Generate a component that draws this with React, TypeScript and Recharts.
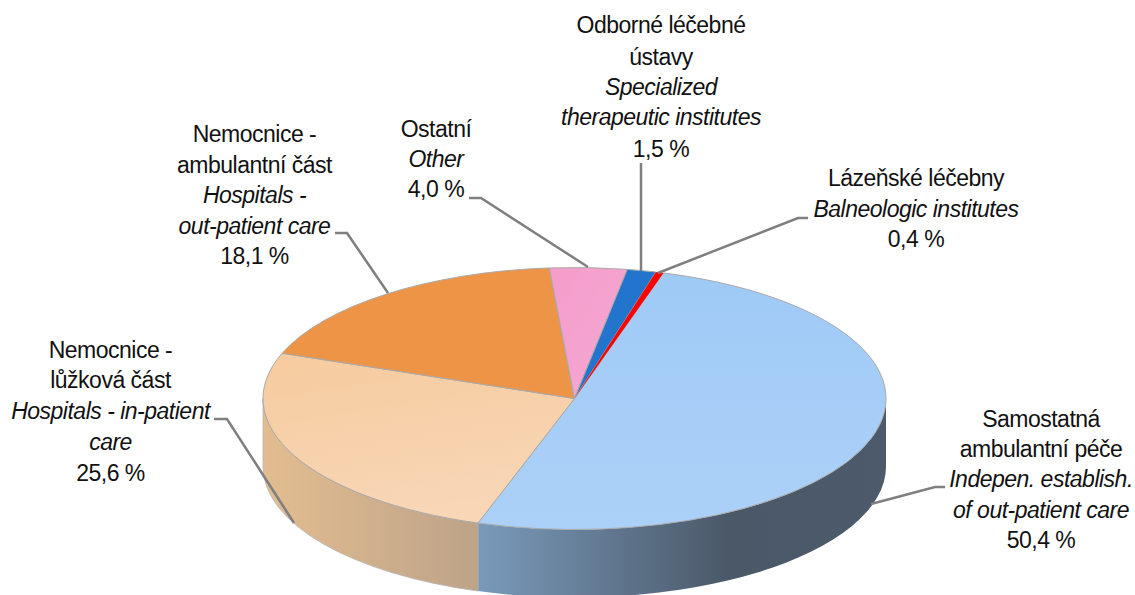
import React from "react";
import { PieChart, Pie } from "recharts";

const categories = ["Samostatná ambulantní péče", "Nemocnice - lůžková část", "Nemocnice - ambulantní část", "Ostatní", "Odborné léčebné ústavy", "Lázeňské léčebny"];
const shares = [50.4, 25.6, 18.1, 4.0, 1.5, 0.4];
const topFills = ["url(#topBlue)", "url(#topTan)", "#EE9446", "url(#topPink)", "#2274CC", "#FF0000"];
const wallFills = ["url(#wallBlue)", "url(#wallTan)", "#EE9446", "#F5A0CE", "#2274CC", "#FF0000"];
const labelLines: [string, boolean][][] = [
  [["Samostatná", false], ["ambulantní péče", false], ["Indepen. establish.", true], ["of out-patient care", true], ["50,4 %", false]],
  [["Nemocnice -", false], ["lůžková část", false], ["Hospitals - in-patient", true], ["care", true], ["25,6 %", false]],
  [["Nemocnice -", false], ["ambulantní část", false], ["Hospitals -", true], ["out-patient care", true], ["18,1 %", false]],
  [["Ostatní", false], ["Other", true], ["4,0 %", false]],
  [["Odborné léčebné", false], ["ústavy", false], ["Specialized", true], ["therapeutic institutes", true], ["1,5 %", false]],
  [["Lázeňské léčebny", false], ["Balneologic institutes", true], ["0,4 %", false]],
];
const labelCenters = [1041, 110.5, 254.5, 436, 661, 916];
const labelBaselines = [
  [427, 457, 487, 518, 548],
  [358, 388, 419, 450, 481],
  [142, 173, 203, 234, 264],
  [137, 167, 197],
  [33, 65, 95, 125, 157],
  [186, 217, 247],
];
const leaders = [
  [[945, 487], [935, 487], [871, 504]],
  [[214, 419], [227, 419], [294, 523]],
  [[335, 233], [347, 233], [388, 293]],
  [[469, 198], [481, 198], [588, 267]],
  [[641, 163], [641, 271]],
  [[808, 218], [798, 218], [658, 273]],
];

const data = categories.map((name, i) => ({ name, value: shares[i], top: topFills[i], wall: wallFills[i] }));

const CX = 574.5;
const CY = 398.5;
const RX = 311.5;
const RY = 131;
const DEPTH = 68;
const FONT = "'Liberation Sans', Arial, sans-serif";

const pt = (a: number) => {
  const r = (a * Math.PI) / 180;
  return [CX + RX * Math.cos(r), CY - RY * Math.sin(r)];
};

const TopSlice = (p: any) => {
  const [x1, y1] = pt(p.startAngle);
  const [x2, y2] = pt(p.endAngle);
  const large = Math.abs(p.startAngle - p.endAngle) > 180 ? 1 : 0;
  const d = `M${CX},${CY} L${x1},${y1} A${RX},${RY} 0 ${large} 1 ${x2},${y2} Z`;
  return <path d={d} fill={p.payload?.top ?? p.top} stroke={p.index === 5 ? "none" : "#A9A9A9"} strokeWidth={1} />;
};

const WallSlice = (p: any) => {
  const hi = Math.min(p.startAngle, 0);
  const lo = Math.max(p.endAngle, -180);
  if (hi <= lo) return <g />;
  const [x1, y1] = pt(hi);
  const [x2, y2] = pt(lo);
  const d = `M${x1},${y1} A${RX},${RY} 0 0 1 ${x2},${y2} L${x2},${y2 + DEPTH} A${RX},${RY} 0 0 0 ${x1},${y1 + DEPTH} Z`;
  return <path d={d} fill={p.payload?.wall ?? p.wall} stroke={p.index === 1 ? "#B5B5B5" : "none"} strokeWidth={0.8} />;
};

const renderLabel = (p: any) => {
  const i = p.index;
  return (
    <text key={i} textAnchor="middle" fontFamily={FONT} fontSize={23} letterSpacing={-0.5} fill="#111">
      {labelLines[i].map(([t, it], j) => (
        <tspan key={j} x={labelCenters[i]} y={labelBaselines[i][j]} fontStyle={it ? "italic" : "normal"}>{t}</tspan>
      ))}
    </text>
  );
};

const renderLeader = (p: any) => (
  <polyline
    key={p.index}
    points={leaders[p.index].map((c) => c.join(",")).join(" ")}
    fill="none"
    stroke="#7F7F7F"
    strokeWidth={2.5}
  />
);

export default function App() {
  return (
    <div style={{ position: "absolute", left: 0, top: 0, width: 1135, height: 595, overflow: "hidden", background: "#fff" }}>
      <PieChart width={1135} height={595} margin={{ top: 0, right: 0, bottom: 0, left: 0 }}>
        <defs>
          <linearGradient id="topBlue" x1="0" y1="0" x2="0" y2="1">
            <stop offset="0" stopColor="#9FCAF6" />
            <stop offset="1" stopColor="#ACD1F8" />
          </linearGradient>
          <linearGradient id="topTan" x1="0" y1="0" x2="0.3" y2="1">
            <stop offset="0" stopColor="#F6CB9E" />
            <stop offset="1" stopColor="#F8D6B6" />
          </linearGradient>
          <linearGradient id="topPink" x1="0" y1="0" x2="1" y2="1">
            <stop offset="0" stopColor="#F59CCB" />
            <stop offset="1" stopColor="#F4A9D4" />
          </linearGradient>
          <linearGradient id="wallBlue" x1="0" y1="0" x2="1" y2="0">
            <stop offset="0" stopColor="#7A9ABB" />
            <stop offset="0.62" stopColor="#4A5868" />
            <stop offset="1" stopColor="#4C5A6B" />
          </linearGradient>
          <linearGradient id="wallTan" x1="0" y1="0" x2="1" y2="0">
            <stop offset="0" stopColor="#E3BD90" />
            <stop offset="1" stopColor="#BDA388" />
          </linearGradient>
        </defs>
        <Pie
          data={data}
          dataKey="value"
          nameKey="name"
          cx={CX}
          cy={CY}
          innerRadius={0}
          outerRadius={RX}
          startAngle={73.4}
          endAngle={-286.6}
          isAnimationActive={false}
          shape={WallSlice}
          label={false}
          labelLine={false}
        />
        <Pie
          data={data}
          dataKey="value"
          nameKey="name"
          cx={CX}
          cy={CY}
          innerRadius={0}
          outerRadius={RX}
          startAngle={73.4}
          endAngle={-286.6}
          isAnimationActive={false}
          shape={TopSlice}
          label={renderLabel}
          labelLine={renderLeader}
        />
      </PieChart>
    </div>
  );
}
